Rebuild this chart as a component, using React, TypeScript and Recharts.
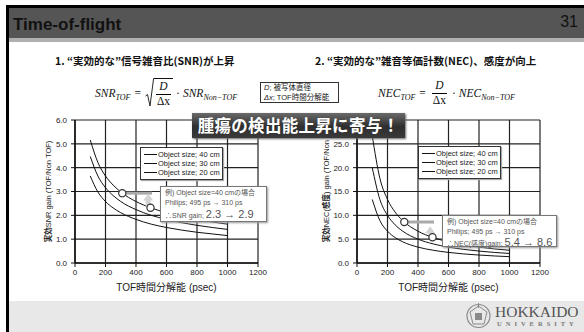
import React from 'react';
import {
  LineChart,
  Line,
  XAxis,
  YAxis,
  CartesianGrid,
  Legend,
  ReferenceDot,
  ReferenceLine,
} from 'recharts';

// ---------- data ----------
const tofPs = [100, 150, 200, 250, 300, 400, 500, 600, 700, 800, 900, 1000];
const snr40 = [5.16, 4.22, 3.65, 3.27, 2.98, 2.58, 2.31, 2.11, 1.95, 1.83, 1.72, 1.63];
const snr30 = [4.47, 3.65, 3.16, 2.83, 2.58, 2.24, 2.0, 1.83, 1.69, 1.58, 1.49, 1.41];
const snr20 = [3.65, 2.98, 2.58, 2.31, 2.11, 1.83, 1.63, 1.49, 1.38, 1.29, 1.22, 1.15];
const nec40 = [26.67, 17.78, 13.33, 10.67, 8.89, 6.67, 5.33, 4.44, 3.81, 3.33, 2.96, 2.67];
const nec30 = [20.0, 13.33, 10.0, 8.0, 6.67, 5.0, 4.0, 3.33, 2.86, 2.5, 2.22, 2.0];
const nec20 = [13.33, 8.89, 6.67, 5.33, 4.44, 3.33, 2.67, 2.22, 1.9, 1.67, 1.48, 1.33];
const seriesNames = ['Object size; 40 cm', 'Object size; 30 cm', 'Object size; 20 cm'];
const xTicks = [0, 200, 400, 600, 800, 1000, 1200];
const snrTicks = [0, 1, 2, 3, 4, 5, 6];
const necTicks = [0, 5, 10, 15, 20, 25, 30];
const examplePs = [310, 495];
const snrExample = [2.93, 2.32];
const necExample = [8.6, 5.4];
const gainLineEndPs = 505;
const arrowPs = 480;
const snrArrow = [2.35, 2.66];
const necArrow = [6.0, 6.45];

const snrData = tofPs.map((t, i) => ({ tof: t, a: snr40[i], b: snr30[i], c: snr20[i] }));
const necData = tofPs.map((t, i) => ({ tof: t, a: nec40[i], b: nec30[i], c: nec20[i] }));

const SANS = "'Liberation Sans', 'Noto Sans CJK JP', sans-serif";
const JP = "'Noto Sans CJK JP', 'Liberation Sans', sans-serif";
const SERIF = "'Liberation Serif', 'DejaVu Serif', serif";

const renderLegend = (props: any) => {
  const payload = [...(props.payload || [])].sort((x: any, y: any) =>
    String(x.dataKey).localeCompare(String(y.dataKey))
  );
  return (
    <div
      style={{
        border: '1px solid #333',
        background: '#fff',
        padding: '2px 2px 2px 3px',
        boxShadow: '1px 1px 1px #aaa',
        fontFamily: SANS,
      }}
    >
      {payload.map((p: any, i: number) => (
        <div key={i} style={{ display: 'flex', alignItems: 'center', height: 9, fontSize: 7.5, color: '#222', whiteSpace: 'nowrap' }}>
          <span style={{ display: 'inline-block', width: 13, borderTop: '1px solid #111', marginRight: 1 }} />
          {p.value}
        </div>
      ))}
    </div>
  );
};

const yTitle = (parts: { t: string; b?: boolean }[], dx: number, dy: number) => (props: any) => {
  const vb = props.viewBox || {};
  const cx = vb.x + vb.width / 2 + dx;
  const cy = vb.y + vb.height / 2 + dy;
  return (
    <text
      x={cx}
      y={cy}
      transform={`rotate(-90 ${cx} ${cy})`}
      textAnchor="middle"
      dominantBaseline="central"
      fontSize={7.5}
      fill="#222"
      fontFamily={SANS}
    >
      {parts.map((p, i) => (
        <tspan key={i} fontWeight={p.b ? 'bold' : 'normal'}>
          {p.t}
        </tspan>
      ))}
    </text>
  );
};

const xTitle = (props: any) => {
  const vb = props.viewBox || {};
  const cx = vb.x + vb.width / 2;
  const cy = vb.y + 24;
  return (
    <text x={cx} y={cy} textAnchor="middle" dominantBaseline="central" fontSize={10} fill="#222" fontFamily={SANS}>
      TOF時間分解能 (psec)
    </text>
  );
};

const arrowHead = (props: any) => {
  const { cx, cy } = props;
  return <polygon points={`${cx},${cy - 6} ${cx - 5},${cy + 1} ${cx + 5},${cy + 1}`} fill="#d4d4d4" />;
};

const openCircle = (props: any) => {
  const { cx, cy } = props;
  return <circle cx={cx} cy={cy} r={3.6} fill="#fff" stroke="#333" strokeWidth={1.2} />;
};

type ChartProps = {
  left: number;
  data: any[];
  yTicks: number[];
  hideTopTick?: boolean;
  exY: number[];
  arrowY: number[];
  legendLeft: number;
  legendTop: number;
  titleParts: { t: string; b?: boolean }[];
  titleDx: number;
  titleDy: number;
};

function GainChart(p: ChartProps) {
  const axisStyle = { fontSize: 8, fill: '#222', fontFamily: SANS };
  const top = p.yTicks[p.yTicks.length - 1];
  return (
    <div style={{ position: 'absolute', left: p.left, top: 110 }}>
      <LineChart width={248} height={190} data={p.data} margin={{ top: 10, right: 10, bottom: 0, left: 0 }}>
        <CartesianGrid stroke="#222" strokeWidth={1.2} />
        <XAxis
          dataKey="tof"
          type="number"
          domain={[0, 1200]}
          ticks={xTicks}
          interval={0}
          height={37}
          tick={axisStyle}
          tickSize={4}
          tickMargin={2}
          axisLine={{ stroke: '#111', strokeWidth: 1.5 }}
          tickLine={{ stroke: '#111' }}
          label={{ content: xTitle }}
        />
        <YAxis
          type="number"
          domain={[p.yTicks[0], top]}
          ticks={p.yTicks}
          interval={0}
          width={55}
          tick={axisStyle}
          tickSize={4}
          tickMargin={4}
          tickFormatter={(v: number) => (p.hideTopTick && v === top ? '' : v.toFixed(1))}
          axisLine={{ stroke: '#111', strokeWidth: 1.5 }}
          tickLine={{ stroke: '#111' }}
          label={{ content: yTitle(p.titleParts, p.titleDx, p.titleDy) }}
        />
        <Legend
          layout="vertical"
          align="center"
          verticalAlign="middle"
          content={renderLegend}
          wrapperStyle={{ left: p.legendLeft, top: p.legendTop, width: 'auto' }}
        />
        <Line dataKey="a" name={seriesNames[0]} type="monotone" stroke="#111" strokeWidth={1} dot={false} isAnimationActive={false} />
        <Line dataKey="b" name={seriesNames[1]} type="monotone" stroke="#111" strokeWidth={1} dot={false} isAnimationActive={false} />
        <Line dataKey="c" name={seriesNames[2]} type="monotone" stroke="#111" strokeWidth={1} dot={false} isAnimationActive={false} />
        <ReferenceLine
          segment={[
            { x: examplePs[0], y: p.exY[0] },
            { x: gainLineEndPs, y: p.exY[0] },
          ]}
          stroke="#aaa"
          strokeWidth={3}
        />
        <ReferenceLine
          segment={[
            { x: arrowPs, y: p.arrowY[0] },
            { x: arrowPs, y: p.arrowY[1] },
          ]}
          stroke="#d4d4d4"
          strokeWidth={5}
        />
        <ReferenceDot x={arrowPs} y={p.arrowY[1]} shape={arrowHead} />
        <ReferenceDot x={examplePs[0]} y={p.exY[0]} shape={openCircle} />
        <ReferenceDot x={examplePs[1]} y={p.exY[1]} shape={openCircle} />
      </LineChart>
    </div>
  );
}

const Frac = ({ num, den }: { num: React.ReactNode; den: React.ReactNode }) => (
  <span
    style={{
      display: 'inline-flex',
      flexDirection: 'column',
      alignItems: 'center',
      verticalAlign: 'middle',
      margin: '0 2px',
      lineHeight: 1.15,
    }}
  >
    <span style={{ padding: '0 1px' }}>{num}</span>
    <span style={{ borderTop: '0.9px solid #000', padding: '0 1px', fontStyle: 'normal' }}>{den}</span>
  </span>
);

const Sub = ({ children }: { children: React.ReactNode }) => (
  <span style={{ fontSize: 8, position: 'relative', top: 3 }}>{children}</span>
);

function Note({ left, top, width, height, lines }: any) {
  return (
    <div
      style={{
        position: 'absolute',
        left,
        top,
        width,
        height,
        boxSizing: 'border-box',
        border: '1px solid #777',
        background: '#fff',
        boxShadow: '1px 1px 2px #999',
        padding: '1px 0 0 4px',
        fontFamily: SANS,
        fontSize: 7,
        color: '#555',
        lineHeight: '9.5px',
        whiteSpace: 'nowrap',
      }}
    >
      {lines}
    </div>
  );
}

export default function App() {
  return (
    <div
      style={{
        position: 'absolute',
        left: 0,
        top: 0,
        width: 584,
        height: 332,
        background: '#fff',
        overflow: 'hidden',
        fontFamily: SANS,
      }}
    >
      {/* frame */}
      <div style={{ position: 'absolute', left: 6, top: 5, width: 578, height: 3, background: '#000' }} />
      <div style={{ position: 'absolute', left: 8, top: 8, width: 576, height: 30, background: '#555' }} />
      <div style={{ position: 'absolute', left: 8, top: 38, width: 576, height: 4, background: '#b0b0b0' }} />
      <div style={{ position: 'absolute', left: 9, top: 301, width: 575, height: 31, background: '#e8e8e8' }} />
      <div style={{ position: 'absolute', left: 6, top: 5, width: 3, height: 327, background: '#000' }} />
      <div style={{ position: 'absolute', left: 13, top: 14, fontSize: 17, fontWeight: 'bold', color: '#111', lineHeight: '22px' }}>
        Time-of-flight
      </div>
      <div style={{ position: 'absolute', right: 6, top: 12, fontSize: 16, color: '#111', lineHeight: '20px' }}>31</div>

      {/* headings */}
      <div style={{ position: 'absolute', left: 55, top: 53, fontFamily: JP, fontSize: 10.5, fontWeight: 'bold', color: '#111', lineHeight: '16px', whiteSpace: 'nowrap' }}>
        1. “実効的な”信号雑音比(SNR)が上昇
      </div>
      <div style={{ position: 'absolute', left: 315, top: 53, fontFamily: JP, fontSize: 10.5, fontWeight: 'bold', color: '#111', lineHeight: '16px', whiteSpace: 'nowrap' }}>
        2. “実効的な”雑音等価計数(NEC)、感度が向上
      </div>

      {/* formulas */}
      <div
        style={{
          position: 'absolute',
          left: 95,
          top: 78,
          height: 30,
          display: 'flex',
          alignItems: 'center',
          fontFamily: SERIF,
          fontStyle: 'italic',
          fontSize: 11.5,
          color: '#111',
          whiteSpace: 'nowrap',
        }}
      >
        <span>
          SNR<Sub>TOF</Sub>
        </span>
        <span style={{ fontStyle: 'normal', margin: '0 4px' }}>=</span>
        <span style={{ display: 'inline-flex', alignItems: 'stretch' }}>
          <svg width={9} height={29} style={{ display: 'block' }}>
            <path d="M0.5 18 L2.5 16.5 L5 28 L8.6 0.5 L9 0.5" fill="none" stroke="#111" strokeWidth={0.9} />
          </svg>
          <span style={{ borderTop: '0.9px solid #111', display: 'inline-flex', alignItems: 'center', paddingTop: 1 }}>
            <Frac num="D" den="Δx" />
          </span>
        </span>
        <span style={{ fontStyle: 'normal', margin: '0 3px' }}>·</span>
        <span>
          SNR<Sub>Non−TOF</Sub>
        </span>
      </div>
      <div
        style={{
          position: 'absolute',
          left: 378,
          top: 78,
          height: 30,
          display: 'flex',
          alignItems: 'center',
          fontFamily: SERIF,
          fontStyle: 'italic',
          fontSize: 11.5,
          color: '#111',
          whiteSpace: 'nowrap',
        }}
      >
        <span>
          NEC<Sub>TOF</Sub>
        </span>
        <span style={{ fontStyle: 'normal', margin: '0 4px' }}>=</span>
        <Frac num="D" den="Δx" />
        <span style={{ fontStyle: 'normal', margin: '0 3px' }}>·</span>
        <span>
          NEC<Sub>Non−TOF</Sub>
        </span>
      </div>
      <div
        style={{
          position: 'absolute',
          left: 260,
          top: 82,
          width: 79,
          height: 21,
          boxSizing: 'border-box',
          border: '1px solid #333',
          background: '#fff',
          fontSize: 7.5,
          lineHeight: '9.5px',
          padding: '0 0 0 3px',
          color: '#222',
          whiteSpace: 'nowrap',
        }}
      >
        <div>
          <i>D</i>; 被写体直径
        </div>
        <div>
          <i>Δx</i>; TOF時間分解能
        </div>
      </div>

      {/* charts */}
      <GainChart
        left={20}
        data={snrData}
        yTicks={snrTicks}
        exY={snrExample}
        arrowY={snrArrow}
        legendLeft={120}
        legendTop={37}
        titleParts={[{ t: '実効', b: true }, { t: 'SNR gain (TOF/Non TOF)' }]}
        titleDx={0}
        titleDy={0}
      />
      <GainChart
        left={302}
        data={necData}
        yTicks={necTicks}
        hideTopTick
        exY={necExample}
        arrowY={necArrow}
        legendLeft={116}
        legendTop={36}
        titleParts={[{ t: '実効', b: true }, { t: 'NEC(' }, { t: '感度', b: true }, { t: ') gain (TOF/Non TOF)' }]}
        titleDx={-4}
        titleDy={-10}
      />

      {/* example notes */}
      <Note
        left={160}
        top={186}
        width={107}
        height={36}
        lines={
          <>
            <div>例) Object size=40 cmの場合</div>
            <div>Philips; 495 ps → 310 ps</div>
            <div style={{ lineHeight: '14px' }}>
              ∴SNR gain; <span style={{ fontSize: 11 }}>2.3 → 2.9</span>
            </div>
          </>
        }
      />
      <Note
        left={442}
        top={215}
        width={115}
        height={32}
        lines={
          <>
            <div>例) Object size=40 cmの場合</div>
            <div>Philips; 495 ps → 310 ps</div>
            <div style={{ lineHeight: '12px' }}>
              ∴NEC(感度)gain; <span style={{ fontSize: 11 }}>5.4 → 8.6</span>
            </div>
          </>
        }
      />

      {/* banner */}
      <div
        style={{
          position: 'absolute',
          left: 192,
          top: 113,
          width: 213,
          height: 25,
          background: 'linear-gradient(#6a6a6a, #2e2e2e 55%, #3a3a3a)',
          boxShadow: '1px 1px 2px #666',
          color: '#fff',
          fontFamily: JP,
          fontWeight: 'bold',
          fontSize: 16.5,
          lineHeight: '25px',
          textAlign: 'center',
          whiteSpace: 'nowrap',
          letterSpacing: 0.3,
        }}
      >
        腫瘍の検出能上昇に寄与！
      </div>

      {/* logo */}
      <svg style={{ position: 'absolute', left: 465, top: 303 }} width={27} height={26}>
        <circle cx={13.5} cy={13} r={11.5} fill="none" stroke="#8a8a8a" strokeWidth={1.2} />
        <polygon points="13.5,3 22,9 19,21 8,21 5,9" fill="none" stroke="#8a8a8a" strokeWidth={1} />
        <rect x={10} y={10} width={7} height={7} fill="#8a8a8a" />
        <line x1={13.5} y1={0} x2={13.5} y2={5} stroke="#8a8a8a" strokeWidth={1} />
      </svg>
      <div style={{ position: 'absolute', left: 495, top: 304, fontFamily: SERIF, fontSize: 15.5, color: '#555', lineHeight: '15px', whiteSpace: 'nowrap' }}>
        HOKKAIDO
      </div>
      <div style={{ position: 'absolute', left: 497, top: 320, fontFamily: SERIF, fontSize: 6.5, fontWeight: 'bold', color: '#777', letterSpacing: 4, lineHeight: '8px', whiteSpace: 'nowrap' }}>
        UNIVERSITY
      </div>
    </div>
  );
}
